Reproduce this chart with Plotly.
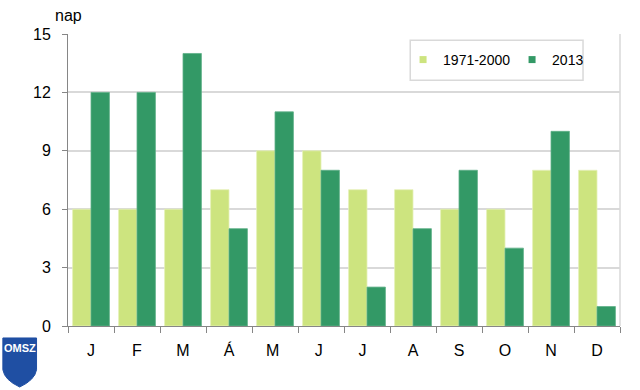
import plotly.graph_objects as go

months = ["J", "F", "M", "Á", "M ", "J ", "J  ", "A", "S", "O", "N", "D"]
normal_1971_2000 = [6, 6, 6, 7, 9, 9, 7, 7, 6, 6, 8, 8]
year_2013 = [12, 12, 14, 5, 11, 8, 2, 5, 8, 4, 10, 1]
y_ticks = [0, 3, 6, 9, 12, 15]

LIGHT = "#cde47f"
DARK = "#339966"
FONT = "Liberation Sans, Arial, sans-serif"

fig = go.Figure()
fig.add_trace(go.Bar(x=months, y=normal_1971_2000, name="1971-2000", showlegend=False,
                     marker=dict(color=LIGHT, line=dict(color="#e4f0b8", width=0.8))))
fig.add_trace(go.Bar(x=months, y=year_2013, name="2013", showlegend=False,
                     marker=dict(color=DARK, line=dict(color="#5fb088", width=0.8))))
# legend entries with small square swatches
for name, col in [("1971-2000", LIGHT), ("2013", DARK)]:
    fig.add_trace(go.Scatter(x=[None], y=[None], mode="markers", name=name,
                             marker=dict(symbol="square", size=7, color=col)))

fig.update_layout(
    width=640, height=390,
    margin=dict(l=68, r=20, t=34, b=64),
    paper_bgcolor="white", plot_bgcolor="white",
    barmode="group", bargap=0.2, bargroupgap=0,
    font=dict(family=FONT, size=16, color="#000000"),
    showlegend=True,
    legend=dict(orientation="h", x=0.607, y=0.911, xanchor="left", yanchor="middle",
                bgcolor="rgba(0,0,0,0)", borderwidth=0,
                font=dict(family=FONT, size=14), itemwidth=30,
                entrywidth=64, entrywidthmode="pixels",
                traceorder="normal"),
    xaxis=dict(type="category", tickson="boundaries", ticks="outside", ticklen=6,
               tickcolor="#868686", showline=True, linecolor="#868686", linewidth=1,
               showgrid=False, tickfont=dict(size=16), ticklabelstandoff=10),
    yaxis=dict(range=[0, 15], tickvals=y_ticks, ticks="outside", ticklen=5,
               tickcolor="#868686", showline=True, linecolor="#868686", linewidth=1,
               showgrid=True, gridcolor="#d9d9d9", gridwidth=1.5, zeroline=False,
               tickfont=dict(size=16), ticklabelstandoff=8),
    annotations=[
        dict(text="nap", xref="paper", yref="paper", x=0.0, y=1.0, yshift=8,
             xanchor="center", yanchor="bottom", showarrow=False,
             font=dict(family=FONT, size=16)),
        dict(text="<b>OMSZ</b>", xref="paper", yref="paper", x=-0.0875, y=-0.075,
             xanchor="center", yanchor="middle", showarrow=False,
             font=dict(family=FONT, size=11, color="white")),
    ],
    shapes=[
        dict(type="line", xref="paper", yref="paper", x0=1, x1=1, y0=0, y1=1,
             line=dict(color="#d9d9d9", width=1.5)),
        dict(type="rect", xref="paper", yref="paper", x0=0.62, x1=0.933, y0=0.842, y1=0.979,
             fillcolor="white", line=dict(color="#d9d9d9", width=1.5), layer="above"),
        dict(type="path", xref="paper", yref="paper",
             path="M -0.118,-0.041 L -0.057,-0.041 L -0.057,-0.15 Q -0.06,-0.185 -0.0875,-0.209 Q -0.115,-0.185 -0.118,-0.15 Z",
             fillcolor="#1f4fa3", line=dict(color="#1f4fa3", width=1)),
    ],
)

fig.write_html("out.html", config={"displayModeBar": False},
               post_script="document.body.style.margin='0';")
